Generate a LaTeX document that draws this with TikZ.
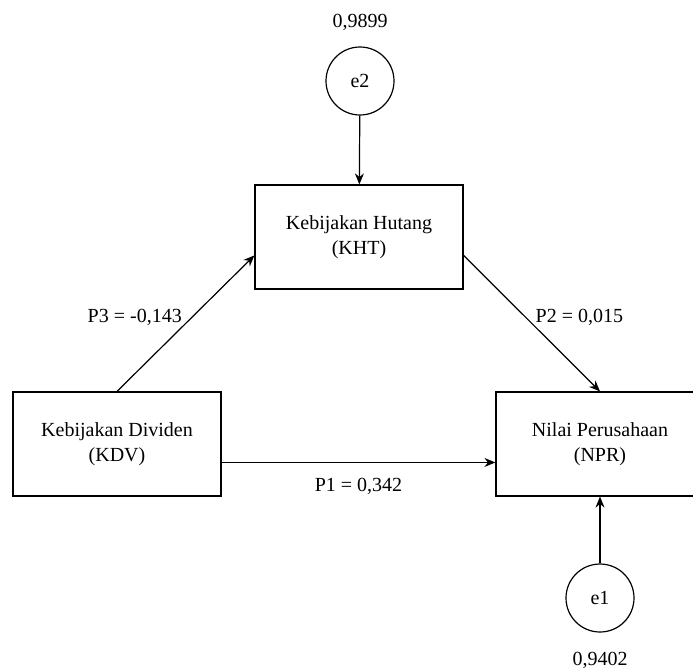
\documentclass[tikz,border=0pt]{standalone}
\usepackage{fontspec}
\setmainfont{Liberation Serif}
\usetikzlibrary{arrows.meta}

\begin{document}
\begin{tikzpicture}[x=1pt, y=-1pt, font=\fontsize{20}{25}\selectfont,
    box/.style={rectangle, draw, line width=1.2pt, minimum width=208pt, minimum height=104pt, align=center},
    err/.style={circle, draw, line width=1.2pt, minimum size=68pt, inner sep=0pt},
    >={Stealth[length=11pt, width=9pt]}]
    \useasboundingbox (0,0) rectangle (693,670);

    \node[err] (e2) at (360,81) {e2};
    \node (e2val) at (360,22) {0,9899};
    \node[box] (kht) at (359,237) {Kebijakan Hutang\\(KHT)};
    \node[box] (kdv) at (117,444) {Kebijakan Dividen\\(KDV)};
    \node[box] (npr) at (600,444) {Nilai Perusahaan\\(NPR)};
    \node[err] (e1) at (600,598) {e1};
    \node (e1val) at (600,660) {0,9402};

    \draw[->, line width=1.2pt] (e2) -- (kht);
    \draw[->, line width=1.2pt] (kdv.north) -- (kht.190) node[midway, above left, yshift=-6pt] {P3 = -0,143};
    \draw[->, line width=1.2pt] (kht.-10) -- (npr.north) node[midway, above right, yshift=-6pt] {P2 = 0,015};
    \draw[->, line width=1.2pt] (kdv.-10) -- (npr.190) node[midway, below=12pt] {P1 = 0,342};
    \draw[->, line width=1.2pt] (e1) -- (npr);
\end{tikzpicture}
\end{document}
